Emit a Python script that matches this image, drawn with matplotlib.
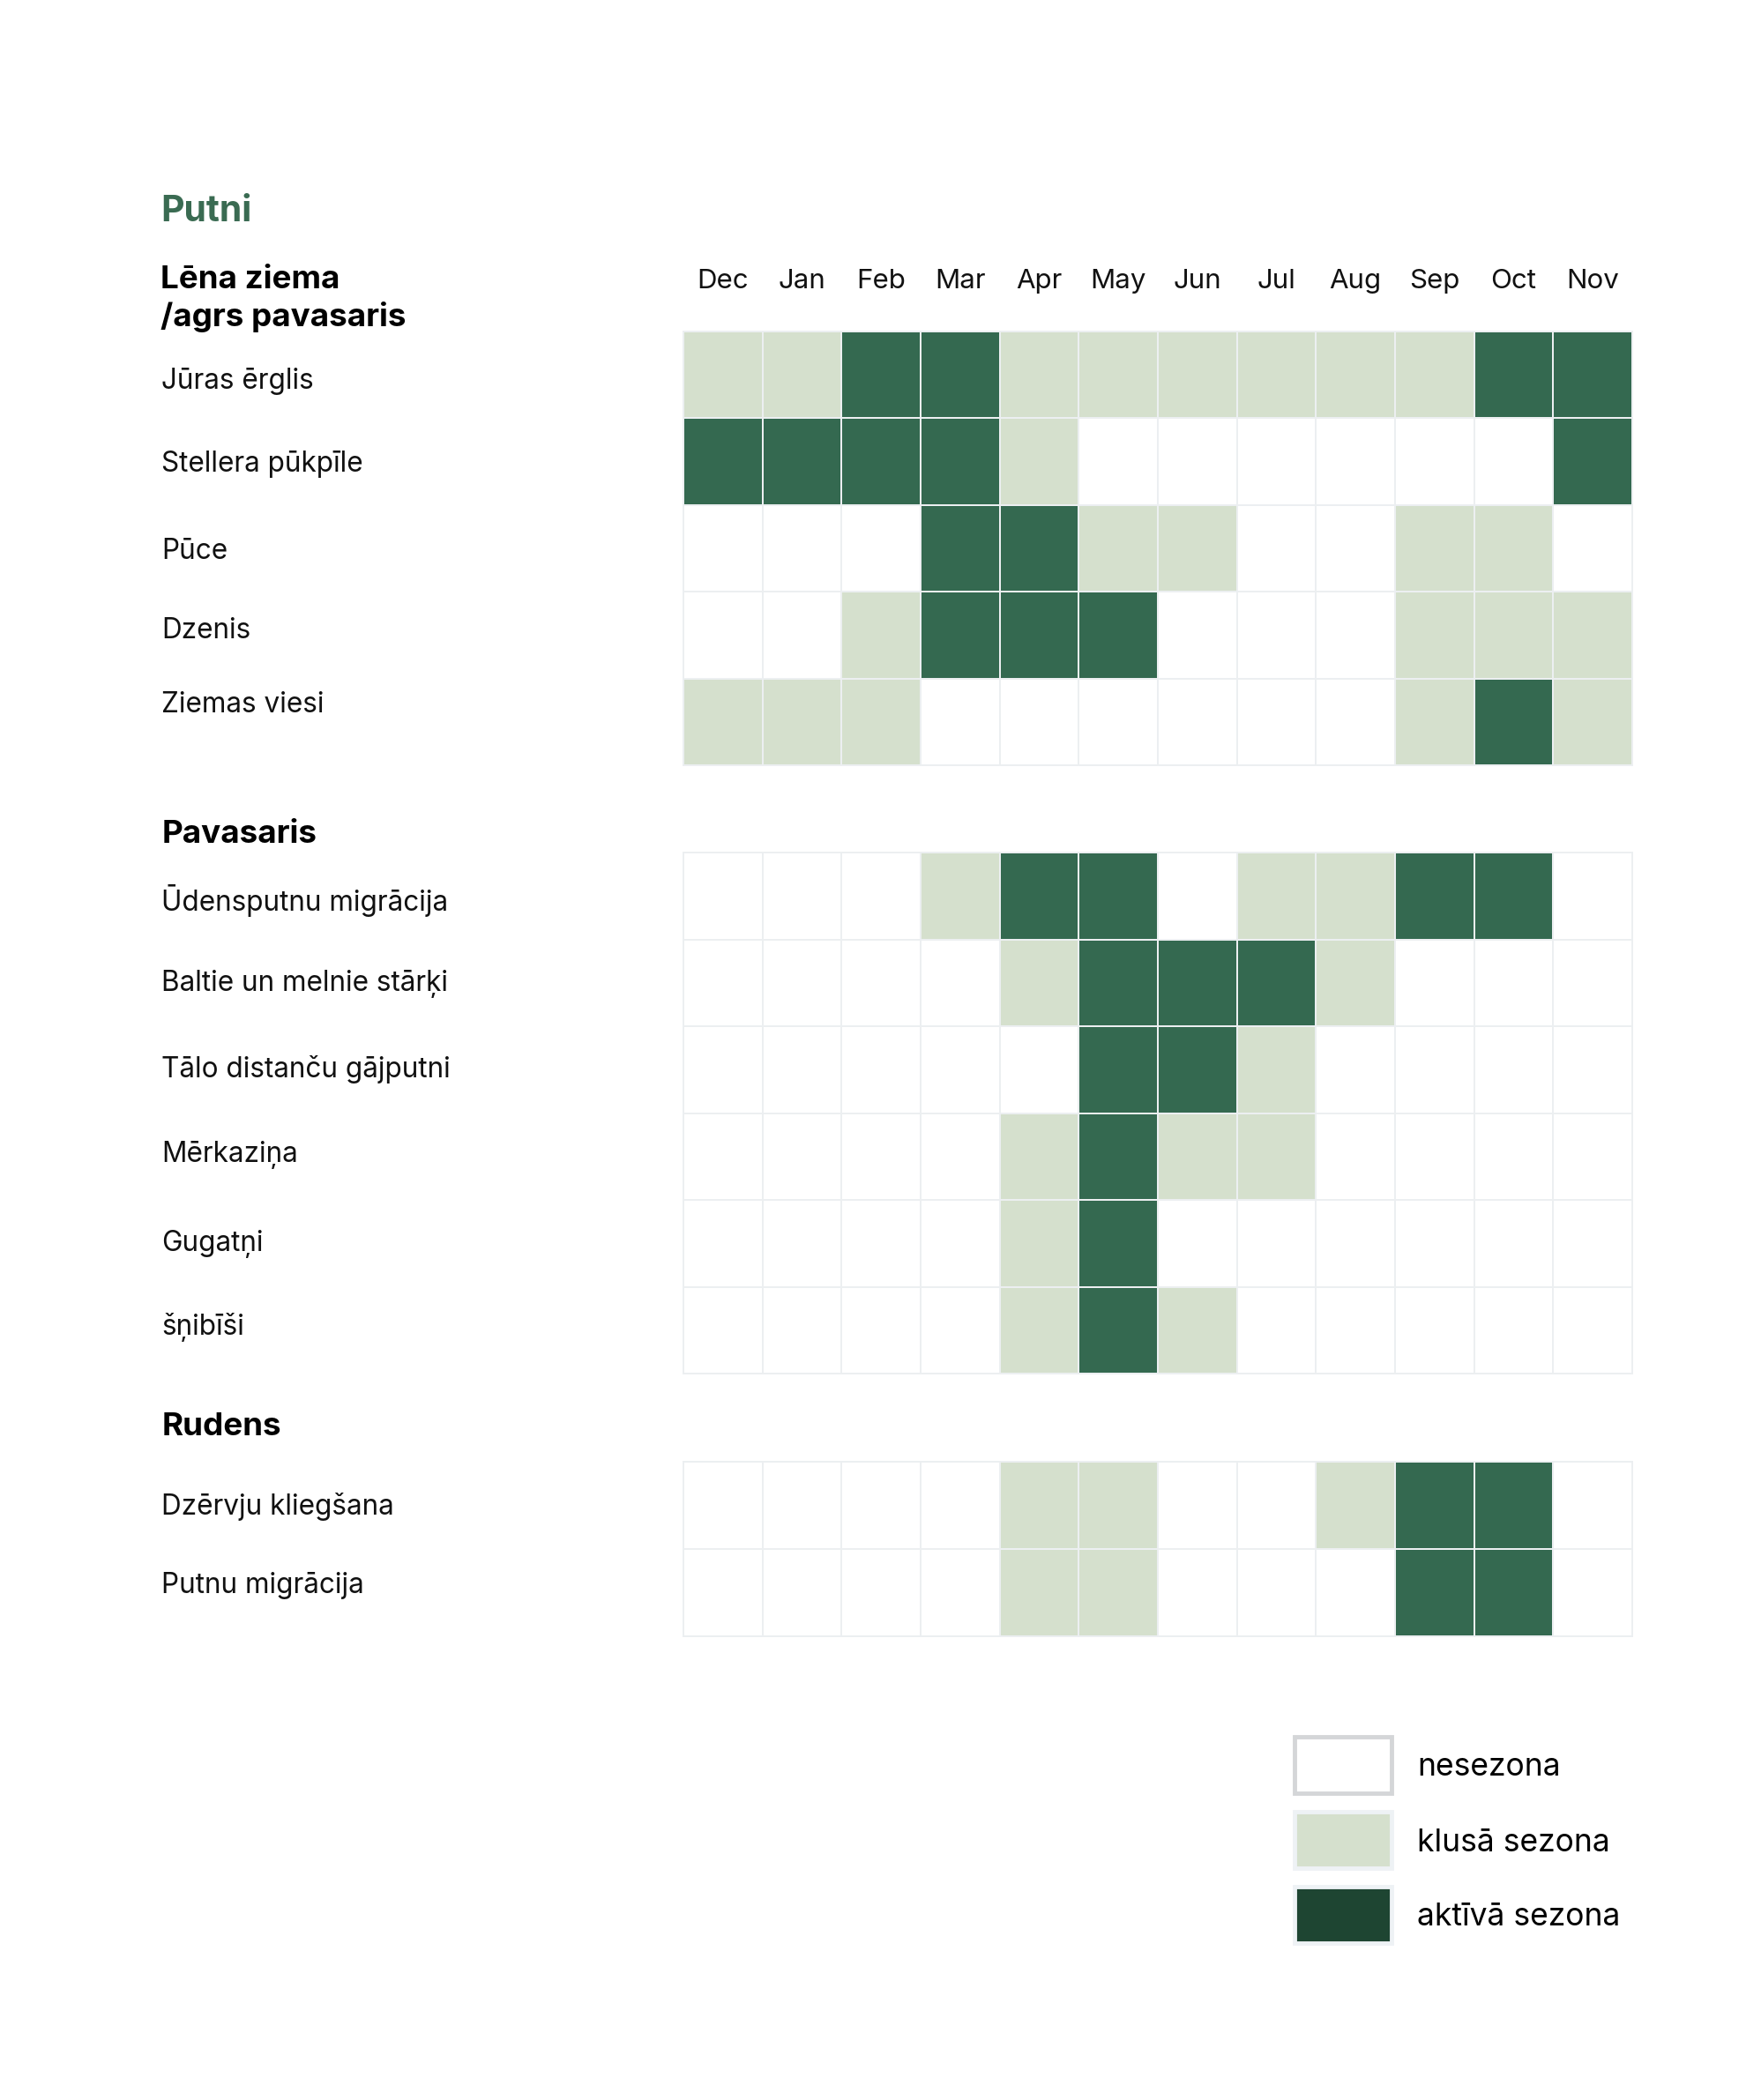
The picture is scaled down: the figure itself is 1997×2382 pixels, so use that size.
import matplotlib
matplotlib.use("Agg")
import matplotlib.pyplot as plt
from matplotlib.colors import ListedColormap, BoundaryNorm
from matplotlib.patches import Rectangle
import matplotlib.transforms as mtransforms
import numpy as np

plt.rcParams['font.family'] = ['Inter', 'Lato', 'DejaVu Sans']

# ---------------- data ----------------
months = ["Dec", "Jan", "Feb", "Mar", "Apr", "May", "Jun", "Jul", "Aug", "Sep", "Oct", "Nov"]

title = "Putni"
section_titles = ["Lēna ziema\n/agrs pavasaris", "Pavasaris", "Rudens"]

winter_labels = ["Jūras ērglis", "Stellera pūkpīle", "Pūce", "Dzenis", "Ziemas viesi"]
winter_values = [
    [1, 1, 2, 2, 1, 1, 1, 1, 1, 1, 2, 2],
    [2, 2, 2, 2, 1, 0, 0, 0, 0, 0, 0, 2],
    [0, 0, 0, 2, 2, 1, 1, 0, 0, 1, 1, 0],
    [0, 0, 1, 2, 2, 2, 0, 0, 0, 1, 1, 1],
    [1, 1, 1, 0, 0, 0, 0, 0, 0, 1, 2, 1],
]

spring_labels = ["Ūdensputnu migrācija", "Baltie un melnie stārķi", "Tālo distanču gājputni",
                 "Mērkaziņa", "Gugatņi", "šņibīši"]
spring_values = [
    [0, 0, 0, 1, 2, 2, 0, 1, 1, 2, 2, 0],
    [0, 0, 0, 0, 1, 2, 2, 2, 1, 0, 0, 0],
    [0, 0, 0, 0, 0, 2, 2, 1, 0, 0, 0, 0],
    [0, 0, 0, 0, 1, 2, 1, 1, 0, 0, 0, 0],
    [0, 0, 0, 0, 1, 2, 0, 0, 0, 0, 0, 0],
    [0, 0, 0, 0, 1, 2, 1, 0, 0, 0, 0, 0],
]

autumn_labels = ["Dzērvju kliegšana", "Putnu migrācija"]
autumn_values = [
    [0, 0, 0, 0, 1, 1, 0, 0, 1, 2, 2, 0],
    [0, 0, 0, 0, 1, 1, 0, 0, 0, 2, 2, 0],
]

legend_labels = ["nesezona", "klusā sezona", "aktīvā sezona"]

# ---------------- style / layout (pixels) ----------------
W, H = 1997, 2382
C_NONE = "#ffffff"
C_QUIET = "#d5e0cd"
C_ACTIVE = "#346950"
C_ACTIVE_LEG = "#1e4532"
C_GRID = "#eceff1"
C_TITLE = "#3a6b52"

cmap = ListedColormap([C_NONE, C_QUIET, C_ACTIVE])
norm = BoundaryNorm([-0.5, 0.5, 1.5, 2.5], cmap.N)

fig = plt.figure(figsize=(W / 100, H / 100), dpi=100)
fig.patch.set_facecolor("white")

TOFF = 3  # vertical text nudge in pixels


def fx(px):
    return px / W


def fy(py):
    return 1 - py / H


grid_left, grid_right = 775, 1851
sections = [
    (winter_labels, winter_values, 376, 868),
    (spring_labels, spring_values, 967, 1558),
    (autumn_labels, autumn_values, 1658, 1856),
]
label_y_px = [
    [430, 523, 622, 713, 797],
    [1018, 1113, 1210, 1307, 1408, 1503],
    [1706, 1795],
]
section_title_y = [336, 943, 1616]
label_x = 183

fig.text(fx(182), fy(237 + TOFF), title, color=C_TITLE, fontsize=29.5, fontweight="bold",
         ha="left", va="center")

for si, (labels, values, top, bottom) in enumerate(sections):
    ax = fig.add_axes([fx(grid_left), fy(bottom), fx(grid_right) - fx(grid_left),
                       fy(top) - fy(bottom)])
    data = np.array(values)
    ax.pcolormesh(np.arange(len(months) + 1), np.arange(len(labels) + 1), data,
                  cmap=cmap, norm=norm, edgecolors=C_GRID, linewidth=1.4)
    ax.set_xlim(0, len(months))
    ax.set_ylim(len(labels), 0)
    ax.set_xticks([])
    ax.set_yticks([])
    for s in ax.spines.values():
        s.set_color(C_GRID)
        s.set_linewidth(1.4)

    for lab, ly in zip(labels, label_y_px[si]):
        fig.text(fx(label_x), fy(ly + TOFF), lab, ha="left", va="center",
                 fontsize=22.7, color="#111111")

    if si == 0:
        ttrans = mtransforms.blended_transform_factory(ax.transData, fig.transFigure)
        for ci, m in enumerate(months):
            ax.text(ci + 0.5, fy(316 + TOFF), m, transform=ttrans, ha="center", va="center",
                    fontsize=22.5, color="#111111")
        fig.text(fx(182), fy(section_title_y[0] + TOFF), section_titles[0], fontsize=26.5,
                 fontweight="bold", ha="left", va="center", color="#000000",
                 linespacing=1.28)
    else:
        fig.text(fx(184), fy(section_title_y[si] + TOFF), section_titles[si], fontsize=26.5,
                 fontweight="bold", ha="left", va="center", color="#000000")

# ---------------- legend ----------------
leg_face = [C_NONE, C_QUIET, C_ACTIVE_LEG]
leg_edge = ["#d4d6d8", "#eef2f5", "#eef2f5"]
leg_y = [2002, 2087, 2172]
box_x0, box_x1 = 1468, 1578
box_h = 64
for face, edge, yc, lab in zip(leg_face, leg_edge, leg_y, legend_labels):
    r = Rectangle((fx(box_x0), fy(yc + box_h / 2)), fx(box_x1) - fx(box_x0),
                  fy(yc - box_h / 2) - fy(yc + box_h / 2), transform=fig.transFigure,
                  facecolor=face, edgecolor=edge, linewidth=3.5)
    fig.add_artist(r)
    fig.text(fx(1607), fy(yc + TOFF), lab, fontsize=25.5, ha="left", va="center",
             color="#000000")

fig.savefig("out.png", dpi=100, facecolor="white")
